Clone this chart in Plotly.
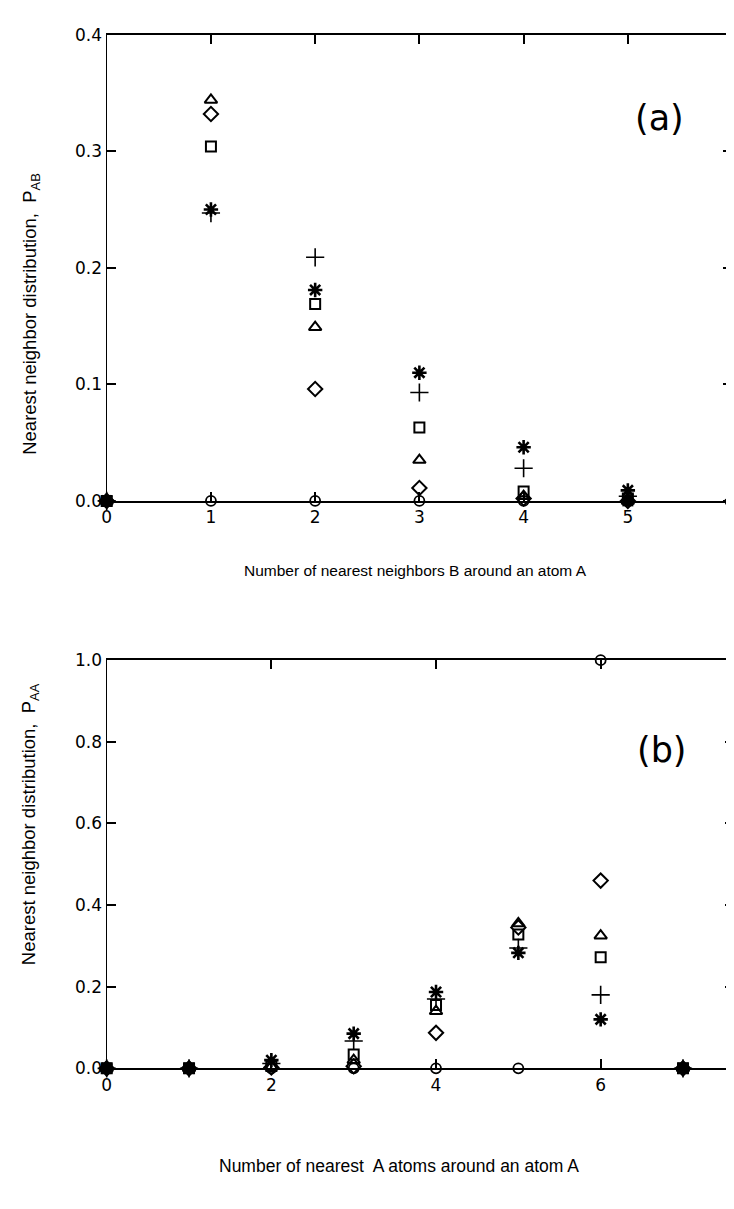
import plotly.graph_objects as go

W, H = 734, 1209

# ---------------- data: panel (a) ----------------
a_x = [0, 1, 2, 3, 4, 5, 6]
a_triangle = [0, 0.344, 0.149, 0.035, 0.004, 0.0, 0]
a_diamond = [0, 0.332, 0.096, 0.011, 0.002, 0.0, 0]
a_square = [0, 0.304, 0.169, 0.063, 0.008, 0.002, 0]
a_star = [0, 0.250, 0.181, 0.110, 0.046, 0.009, 0]
a_plus = [0, 0.247, 0.209, 0.093, 0.028, 0.004, 0]
a_circle = [None, 0, 0, 0, 0, 0, 0]
a_overlap_x = [0, 5, 6]
a_overlap_y = [0, 0, 0]

# ---------------- data: panel (b) ----------------
b_x = [0, 1, 2, 3, 4, 5, 6, 7, 8]
b_circle = [0, 0, 0, 0, 0, 0, 1.0, 0, 0]
b_diamond = [0, 0, 0.002, 0.005, 0.087, 0.345, 0.46, 0, 0]
b_triangle = [0, 0, 0.004, 0.020, 0.140, 0.355, 0.325, 0, 0]
b_square = [0, 0, 0.006, 0.034, 0.155, 0.328, 0.272, 0, 0]
b_plus = [0, 0, 0.012, 0.067, 0.170, 0.295, 0.180, 0, 0]
b_star = [0, 0, 0.020, 0.085, 0.187, 0.283, 0.120, 0, 0]
b_overlap_x = [0, 1, 7, 8]
b_overlap_y = [0, 0, 0, 0]

a_xticks = [0, 1, 2, 3, 4, 5, 6]
a_yticks = [0.0, 0.1, 0.2, 0.3, 0.4]
b_xticks = [0, 2, 4, 6, 8]
b_yticks = [0.0, 0.2, 0.4, 0.6, 0.8, 1.0]

FONT = "Liberation Sans, Arial, sans-serif"
TICKFONT = "DejaVu Sans, sans-serif"

series_a = [
    (a_circle, "circle-open"),
    (a_diamond, "diamond-open"),
    (a_triangle, "triangle-up-open"),
    (a_square, "square-open"),
    (a_plus, "cross-thin-open"),
    (a_star, "asterisk-open"),
]
series_b = [
    (b_circle, "circle-open"),
    (b_diamond, "diamond-open"),
    (b_triangle, "triangle-up-open"),
    (b_square, "square-open"),
    (b_plus, "cross-thin-open"),
    (b_star, "asterisk-open"),
]

fig = go.Figure()

STYLE = {
    "circle-open": (10, 1.8),
    "diamond-open": (11, 2.0),
    "triangle-up-open": (11, 2.0),
    "square-open": (10, 2.0),
    "cross-thin-open": (13, 1.6),
    "asterisk-open": (12, 2.6),
}


def add_series(xs, ys, sym, xa, ya):
    size, lw = STYLE[sym]
    fig.add_trace(go.Scatter(
        x=xs, y=ys, mode="markers", xaxis=xa, yaxis=ya, cliponaxis=False,
        marker=dict(symbol=sym, size=size, color="black",
                    line=dict(color="black", width=lw)),
        showlegend=False, hoverinfo="x+y"))


for ys, sym in series_a:
    add_series(a_x, ys, sym, "x", "y")
for ys, sym in series_b:
    add_series(b_x, ys, sym, "x2", "y2")

fig.add_trace(go.Scatter(x=a_overlap_x, y=a_overlap_y, mode="markers", xaxis="x", yaxis="y",
                         cliponaxis=False, marker=dict(symbol="square", size=11, color="black"),
                         showlegend=False))
fig.add_trace(go.Scatter(x=b_overlap_x, y=b_overlap_y, mode="markers", xaxis="x2", yaxis="y2",
                         cliponaxis=False, marker=dict(symbol="square", size=11, color="black"),
                         showlegend=False))


def px(xp):
    return xp / W


def py(yp):
    return 1 - yp / H


axis_common = dict(
    showgrid=False, zeroline=False, showline=True, linecolor="black",
    mirror="ticks", ticks="inside", ticklen=9, tickcolor="black",
    tickfont=dict(family=TICKFONT, size=17, color="black"),
)

fig.update_layout(
    width=W, height=H,
    margin=dict(l=0, r=0, t=0, b=0),
    paper_bgcolor="white", plot_bgcolor="white",
    showlegend=False,
    xaxis=dict(domain=[px(95), px(729)], range=[0, 6], tickvals=a_xticks,
               ticklabeloverflow="allow",
               linewidth=2.4, tickwidth=1.8, anchor="y", **axis_common),
    yaxis=dict(domain=[py(491), py(17)], range=[0, 0.4], tickvals=a_yticks,
               tickformat=".1f", linewidth=1.4, tickwidth=1.8, anchor="x", **axis_common),
    xaxis2=dict(domain=[px(95), px(731)], range=[0, 7.62], tickvals=b_xticks,
                ticklabeloverflow="allow",
                linewidth=2.4, tickwidth=1.8, anchor="y2", **axis_common),
    yaxis2=dict(domain=[py(1068), py(653)], range=[0, 1.0], tickvals=b_yticks,
                tickformat=".1f", linewidth=1.4, tickwidth=1.8, anchor="x2", **axis_common),
)

x_title_font = dict(family=FONT, size=15.5, color="black")
x2_title_font = dict(family=FONT, size=17.5, color="black")
y_title_font = dict(family=FONT, size=18.5, color="black")
label_font = dict(family=TICKFONT, size=35, color="black")
annotations = [
    dict(x=px(655), y=py(102), text="(a)", font=label_font),
    dict(x=px(658), y=py(744), text="(b)", font=label_font),
    dict(x=px(408), y=py(562), text="Number of nearest neighbors B around an atom A", font=x_title_font),
    dict(x=px(391), y=py(1167), text="Number of nearest\u00a0 A atoms around an atom A", font=x2_title_font),
    dict(x=px(18), y=py(301), text="Nearest neighbor distribution,\u00a0 P<sub>AB</sub>",
         textangle=-90, font=y_title_font),
    dict(x=px(18), y=py(820), text="Nearest neighbor distribution,\u00a0 P<sub>AA</sub>",
         textangle=-90, font=y_title_font),
]
for a in annotations:
    a.update(xref="paper", yref="paper", showarrow=False, xanchor="center", yanchor="middle")
fig.update_layout(annotations=annotations)

fig.write_html("out.html")
